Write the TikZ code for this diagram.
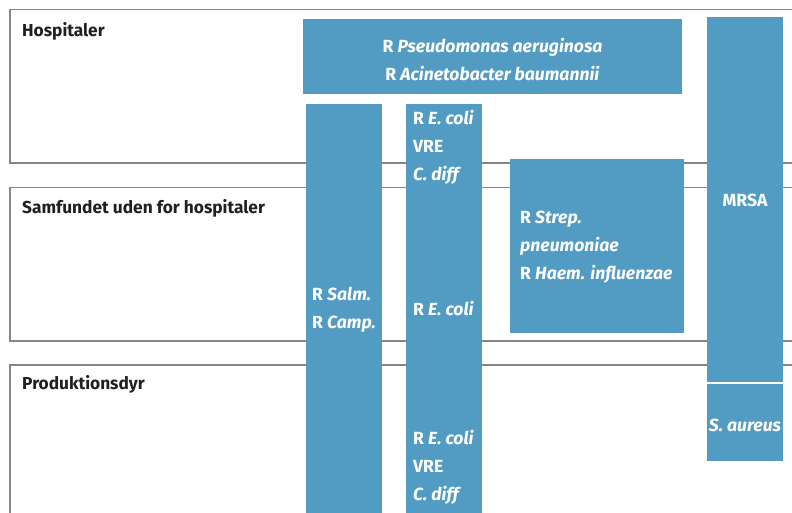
\documentclass[tikz,border=0pt]{standalone}
\usepackage{fontspec}
\setmainfont{Fira Sans}
\definecolor{boxblue}{HTML}{529BC3}
\definecolor{panelgray}{HTML}{8C8480}
\definecolor{labeltext}{HTML}{231F20}
\tikzset{
  panel/.style={draw=panelgray, line width=1.4pt, fill=white},
  bluebox/.style={fill=boxblue, draw=none},
  paneltitle/.style={anchor=base west, text=labeltext, inner sep=0pt, font=\fontsize{17.3}{20}\selectfont\bfseries},
  boxtext/.style={text=white, inner sep=0pt, font=\fontsize{17.6}{28}\selectfont\bfseries}
}
\begin{document}
\begin{tikzpicture}[x=1pt,y=-1pt]
\useasboundingbox (0,0) rectangle (792,512);
\clip (0,0) rectangle (792,512);
% panels
\draw[panel] (10,9.5) rectangle (800,163);
\draw[panel] (10,187.5) rectangle (800,341);
\draw[panel] (10,365) rectangle (800,530);
\node[paneltitle] (t1) at (22,36) {Hospitaler};
\node[paneltitle] (t2) at (22,213) {Samfundet uden for hospitaler};
\node[paneltitle] (t3) at (22,389) {Produktionsdyr};
% blue boxes
\fill[bluebox] (303,19) rectangle (682,94);
\fill[bluebox] (306,104) rectangle (382,530);
\fill[bluebox] (406,104) rectangle (482,530);
\fill[bluebox] (510,159) rectangle (684,333);
\fill[bluebox] (707,17) rectangle (783,381.5);
\fill[bluebox] (707,383.5) rectangle (783,461);
% texts
\node[boxtext, align=center] (pseudo) at (492.5,59.5) {R \textit{Pseudomonas aeruginosa}\\R \textit{Acinetobacter baumannii}};
\node[boxtext, align=left, anchor=west] (ecolihosp) at (413,147.5) {R \textit{E. coli}\\VRE\\\textit{C. diff}};
\node[boxtext, align=left, anchor=west] (salm) at (312,309.5) {R \textit{Salm.}\\R \textit{Camp.}};
\node[boxtext, align=left, anchor=west] (ecolisam) at (413,309) {R \textit{E. coli}};
\node[boxtext, align=left, anchor=west] (ecoliprod) at (413,467) {R \textit{E. coli}\\VRE\\\textit{C. diff}};
\node[boxtext, align=left, anchor=west] (strep) at (520,247.5) {R \textit{Strep.}\\\textit{pneumoniae}\\R \textit{Haem. influenzae}};
\node[boxtext] (mrsa) at (745,200) {MRSA};
\node[boxtext] (saureus) at (745,425) {\textit{S. aureus}};
\end{tikzpicture}
\end{document}
